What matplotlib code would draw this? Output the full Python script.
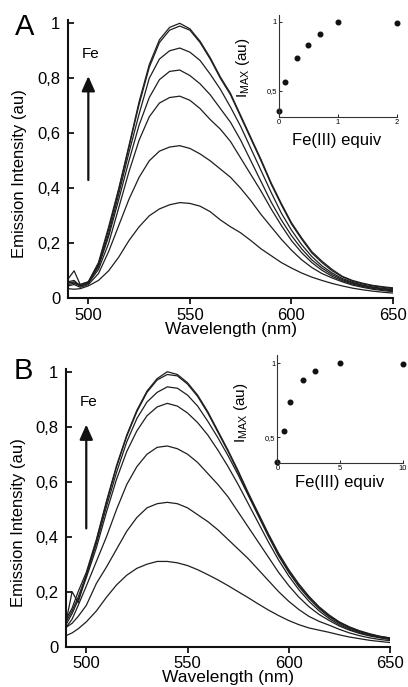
import matplotlib
matplotlib.use('Agg')
import matplotlib.pyplot as plt

plt.rcParams['font.family'] = ['Liberation Sans', 'DejaVu Sans']
plt.rcParams['mathtext.fontset'] = 'custom'
plt.rcParams['mathtext.rm'] = 'Liberation Sans'

# *** Data *** #
wl = [490, 493, 496, 500, 505, 510, 515, 520, 525, 530, 535, 540, 545, 550, 555, 560, 565,
      570, 575, 580, 585, 590, 595, 600, 605, 610, 615, 620, 625, 630, 635, 640, 645, 650]

# Panel A spectra, lowest to highest
a_c1 = [0.035, 0.033, 0.035, 0.045, 0.065, 0.10, 0.15, 0.21, 0.26, 0.30, 0.325, 0.34, 0.348, 0.345, 0.335, 0.315, 0.285,
        0.26, 0.238, 0.21, 0.18, 0.155, 0.13, 0.11, 0.092, 0.077, 0.065, 0.054, 0.045, 0.037, 0.031, 0.026, 0.022, 0.019]
a_c2 = [0.045, 0.05, 0.04, 0.05, 0.09, 0.17, 0.265, 0.36, 0.44, 0.50, 0.535, 0.55, 0.555, 0.545, 0.525, 0.50, 0.47,
        0.44, 0.40, 0.355, 0.305, 0.26, 0.215, 0.175, 0.14, 0.112, 0.09, 0.074, 0.06, 0.048, 0.04, 0.033, 0.028, 0.024]
a_c3 = [0.05, 0.055, 0.045, 0.055, 0.105, 0.20, 0.33, 0.46, 0.575, 0.66, 0.71, 0.73, 0.735, 0.72, 0.69, 0.65, 0.615,
        0.57, 0.51, 0.45, 0.39, 0.325, 0.265, 0.21, 0.166, 0.13, 0.102, 0.08, 0.064, 0.052, 0.043, 0.036, 0.031, 0.027]
a_c4 = [0.055, 0.06, 0.045, 0.055, 0.115, 0.225, 0.36, 0.50, 0.63, 0.73, 0.795, 0.825, 0.83, 0.81, 0.78, 0.74, 0.69,
        0.64, 0.575, 0.50, 0.425, 0.35, 0.285, 0.228, 0.18, 0.14, 0.11, 0.086, 0.068, 0.055, 0.046, 0.039, 0.034, 0.03]
a_c5 = [0.06, 0.065, 0.045, 0.055, 0.12, 0.235, 0.38, 0.53, 0.67, 0.80, 0.87, 0.90, 0.91, 0.895, 0.865, 0.815, 0.76,
        0.695, 0.625, 0.545, 0.465, 0.385, 0.31, 0.248, 0.195, 0.152, 0.118, 0.092, 0.072, 0.058, 0.048, 0.041, 0.036, 0.032]
a_c6 = [0.07, 0.10, 0.05, 0.06, 0.125, 0.25, 0.395, 0.55, 0.705, 0.84, 0.93, 0.975, 0.99, 0.975, 0.93, 0.87, 0.80,
        0.74, 0.66, 0.58, 0.50, 0.415, 0.34, 0.27, 0.215, 0.165, 0.13, 0.10, 0.078, 0.062, 0.052, 0.045, 0.04, 0.035]
a_c7 = [0.06, 0.055, 0.05, 0.06, 0.13, 0.26, 0.40, 0.555, 0.715, 0.85, 0.94, 0.985, 1.0, 0.98, 0.935, 0.875, 0.805,
        0.745, 0.665, 0.585, 0.505, 0.42, 0.345, 0.275, 0.22, 0.17, 0.135, 0.105, 0.08, 0.065, 0.055, 0.047, 0.042, 0.038]

# Panel B spectra, lowest to highest
b_c1 = [0.04, 0.05, 0.065, 0.09, 0.13, 0.18, 0.225, 0.26, 0.285, 0.30, 0.31, 0.31, 0.305, 0.295, 0.28, 0.262, 0.243,
        0.222, 0.2, 0.178, 0.155, 0.133, 0.113, 0.095, 0.08, 0.068, 0.06, 0.052, 0.043, 0.035, 0.029, 0.023, 0.019, 0.015]
b_c2 = [0.07, 0.085, 0.11, 0.15, 0.23, 0.29, 0.355, 0.42, 0.47, 0.505, 0.52, 0.525, 0.52, 0.505, 0.48, 0.455, 0.425,
        0.39, 0.355, 0.32, 0.28, 0.24, 0.2, 0.165, 0.135, 0.11, 0.092, 0.078, 0.063, 0.05, 0.04, 0.032, 0.026, 0.022]
b_c3 = [0.07, 0.10, 0.15, 0.22, 0.31, 0.40, 0.50, 0.59, 0.655, 0.70, 0.725, 0.73, 0.72, 0.70, 0.67, 0.63, 0.59,
        0.545, 0.49, 0.435, 0.38, 0.325, 0.27, 0.222, 0.18, 0.145, 0.117, 0.095, 0.075, 0.06, 0.048, 0.039, 0.032, 0.026]
b_c4 = [0.08, 0.12, 0.17, 0.25, 0.36, 0.49, 0.61, 0.71, 0.785, 0.84, 0.872, 0.885, 0.875, 0.85, 0.815, 0.77, 0.715,
        0.655, 0.59, 0.52, 0.45, 0.38, 0.315, 0.257, 0.207, 0.165, 0.13, 0.102, 0.08, 0.063, 0.051, 0.041, 0.034, 0.028]
b_c5 = [0.09, 0.13, 0.18, 0.26, 0.375, 0.51, 0.635, 0.745, 0.83, 0.89, 0.925, 0.945, 0.94, 0.915, 0.875, 0.82, 0.76,
        0.695, 0.625, 0.55, 0.475, 0.40, 0.33, 0.27, 0.218, 0.175, 0.138, 0.108, 0.085, 0.067, 0.054, 0.044, 0.036, 0.03]
b_c6 = [0.09, 0.20, 0.16, 0.26, 0.385, 0.525, 0.655, 0.765, 0.855, 0.925, 0.97, 0.99, 0.985, 0.955, 0.91, 0.85, 0.78,
        0.71, 0.635, 0.555, 0.48, 0.405, 0.335, 0.275, 0.224, 0.18, 0.142, 0.112, 0.088, 0.07, 0.056, 0.045, 0.037, 0.031]
b_c7 = [0.10, 0.14, 0.20, 0.27, 0.39, 0.53, 0.66, 0.77, 0.86, 0.93, 0.975, 1.0, 0.99, 0.96, 0.915, 0.855, 0.785,
        0.715, 0.64, 0.56, 0.485, 0.41, 0.34, 0.28, 0.228, 0.183, 0.145, 0.115, 0.09, 0.072, 0.058, 0.047, 0.038, 0.032]

# Insets: max intensity vs Fe(III) equivalents
a_equiv = [0, 0.1, 0.3, 0.5, 0.7, 1, 2]
a_imax = [0.35, 0.56, 0.74, 0.83, 0.91, 1.0, 0.99]
b_equiv = [0, 0.5, 1, 2, 3, 5, 10]
b_imax = [0.33, 0.54, 0.74, 0.89, 0.95, 1.0, 0.995]

y_ticks = [0, 0.2, 0.4, 0.6, 0.8, 1]
y_labels = ['0', '0,2', '0,4', '0,6', '0,8', '1']
x_ticks = [500, 550, 600, 650]

line_col = '#1e1e1e'


# Main spectra panel
def draw_main(rect, spectra, ytop, letter, letter_xy):
    ax = fig.add_axes(rect)
    for s in spectra:
        ax.plot(wl, s, color=line_col, lw=0.9)
    ax.set_xlim(490, 650)
    ax.set_ylim(0, ytop)
    for side in ['top', 'right']:
        ax.spines[side].set_visible(False)
    for side in ['left', 'bottom']:
        ax.spines[side].set_linewidth(1.5)
        ax.spines[side].set_color('#111111')
    ax.set_yticks(y_ticks)
    ax.set_yticklabels(y_labels)
    ax.set_xticks(x_ticks)
    ax.tick_params(axis='y', direction='in', length=4, width=1.2, pad=5.5, labelsize=12)
    ax.tick_params(axis='x', direction='out', length=4, width=1.2, pad=3, labelsize=12)
    ax.set_xlabel('Wavelength (nm)', fontsize=12.5, labelpad=-1)
    ax.set_ylabel('Emission Intensity (au)', fontsize=12)
    ax.yaxis.set_label_coords(-0.125, 0.448)
    # Fe arrow
    ax.annotate('', xy=(500, 0.818), xytext=(500, 0.42),
                arrowprops=dict(arrowstyle='-|>,head_width=0.4,head_length=0.9', color='#111111', lw=1.6))
    ax.text(501, 0.89, 'Fe', fontsize=11, ha='center', va='center')
    ax.text(letter_xy[0], letter_xy[1], letter, transform=ax.transAxes, fontsize=21, ha='center', va='center')
    return ax


# Inset panel
def draw_inset(rect, xs, ys, xlim, ylim, xt, ylab_xy, xlab_xy):
    ax = fig.add_axes(rect)
    ax.plot(xs, ys, 'o', color='#111111', ms=3.3, clip_on=False)
    ax.set_xlim(*xlim)
    ax.set_ylim(*ylim)
    for side in ['top', 'right']:
        ax.spines[side].set_visible(False)
    for side in ['left', 'bottom']:
        ax.spines[side].set_linewidth(0.8)
        ax.spines[side].set_color('#333333')
    ax.set_yticks([0.5, 1])
    ax.set_yticklabels(['0,5', '1'])
    ax.set_xticks(xt)
    ax.tick_params(direction='in', length=2, width=0.6, pad=1.5, labelsize=5.5)
    ax.set_ylabel(r'$\mathregular{I_{MAX}}$ (au)', fontsize=11)
    ax.yaxis.set_label_coords(*ylab_xy)
    ax.set_xlabel('Fe(III) equiv', fontsize=12)
    ax.xaxis.set_label_coords(*xlab_xy)
    return ax


fig = plt.figure(figsize=(4.08, 6.87), dpi=100)

draw_main([0.1667, 0.5658, 0.7966, 0.4051], [a_c1, a_c2, a_c3, a_c4, a_c5, a_c6, a_c7], 1.012, 'A', (-0.132, 0.975))
draw_main([0.1618, 0.0587, 0.7941, 0.4038], [b_c1, b_c2, b_c3, b_c4, b_c5, b_c6, b_c7], 1.009, 'B', (-0.133, 0.994))

draw_inset([0.6838, 0.8293, 0.2892, 0.1489], a_equiv, a_imax, (0, 2), (0.307, 1.049), [0, 1, 2],
           (-0.23, 0.48), (0.487, -0.155))
draw_inset([0.6801, 0.3256, 0.3069, 0.1576], b_equiv, b_imax, (0, 10), (0.324, 1.056), [0, 5, 10],
           (-0.22, 0.464), (0.5, -0.108))

plt.savefig('out.png', dpi=100)
